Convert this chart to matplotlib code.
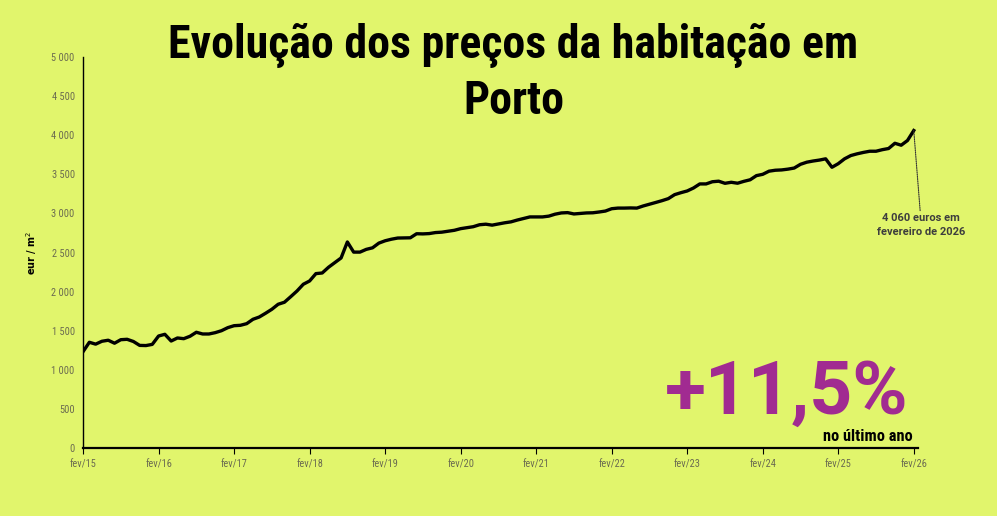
import matplotlib
matplotlib.use("Agg")
import matplotlib.pyplot as plt
from matplotlib.ticker import FuncFormatter

# ---- data ----
prices = [
    1232, 1352, 1328, 1365, 1378, 1340, 1385, 1390, 1362, 1312, 1310, 1325,
    1432, 1454, 1368, 1407, 1398, 1429, 1480, 1458, 1458, 1475, 1500, 1539,
    1564, 1569, 1590, 1646, 1675, 1723, 1774, 1838, 1864, 1935, 2008, 2094,
    2136, 2230, 2238, 2311, 2370, 2430, 2635, 2505, 2505, 2540, 2560, 2620,
    2650, 2670, 2685, 2686, 2688, 2740, 2738, 2742, 2755, 2760, 2772, 2784,
    2805, 2818, 2830, 2855, 2862, 2850, 2865, 2880, 2892, 2915, 2935, 2955,
    2955, 2955, 2965, 2990, 3006, 3010, 2993, 3000, 3006, 3008, 3018, 3030,
    3060, 3068, 3068, 3070, 3068, 3095, 3117, 3140, 3163, 3189, 3240, 3265,
    3287, 3325, 3377, 3377, 3405, 3412, 3385, 3398, 3386, 3410, 3430, 3483,
    3500, 3540, 3552, 3556, 3566, 3580, 3628, 3655, 3670, 3682, 3698, 3590,
    3636, 3698, 3740, 3762, 3780, 3795, 3795, 3815, 3830, 3897, 3872, 3932,
    4060,
]
tick_labels = ["fev/15", "fev/16", "fev/17", "fev/18", "fev/19", "fev/20",
               "fev/21", "fev/22", "fev/23", "fev/24", "fev/25", "fev/26"]
y_ticks = [0, 500, 1000, 1500, 2000, 2500, 3000, 3500, 4000, 4500, 5000]
title = "Evolução dos preços da habitação em\nPorto"
big_change = "+11,5%"
change_note = "no último ano"
end_note = "4 060 euros em\nfevereiro de 2026"

BG = "#E1F56C"
PURPLE = "#A12B91"
NARROW = ["Liberation Sans Narrow", "Roboto Condensed", "DejaVu Sans"]

months = list(range(len(prices)))

fig = plt.figure(figsize=(9.97, 5.16), dpi=100, facecolor=BG)
ax = fig.add_axes([0.0833, 0.1318, 0.837, 0.7577])
ax.set_facecolor(BG)

ax.plot(months, prices, color="black", lw=2.4, solid_joinstyle="round", zorder=3)

ax.set_xlim(0, 132.6)
ax.set_ylim(0, 5000)
ax.set_yticks(y_ticks)
ax.yaxis.set_major_formatter(FuncFormatter(lambda v, p: f"{int(v):,}".replace(",", " ")))
ax.set_xticks([12 * i for i in range(len(tick_labels))])
ax.set_xticklabels(tick_labels)

for s in ["top", "right"]:
    ax.spines[s].set_visible(False)
ax.spines["left"].set_linewidth(1.0)
ax.spines["bottom"].set_linewidth(1.6)
ax.tick_params(axis="y", length=0, labelsize=7.5, labelcolor="#6b6b50", pad=6)
ax.tick_params(axis="x", length=4, width=0.8, direction="out", labelsize=7.5,
               labelcolor="#6b6b50", pad=4)
for lab in ax.get_xticklabels() + ax.get_yticklabels():
    lab.set_family(NARROW)

ax.set_ylabel("eur / m$^2$", fontsize=7, fontweight="bold", labelpad=9)

fig.text(0.515, 0.955, title, ha="center", va="top", fontsize=33,
         fontweight="bold", linespacing=1.3, family=NARROW)

fig.text(0.911, 0.199, big_change, ha="right", va="baseline", fontsize=54,
         fontweight="bold", color=PURPLE, family=["Roboto", "DejaVu Sans"])
fig.text(0.915, 0.146, change_note, ha="right", va="baseline", fontsize=11.8,
         fontweight="bold", color="black", family=NARROW)

ax.annotate(end_note, xy=(months[-1], prices[-1]), xytext=(133.2, 3000),
            ha="center", va="top", fontsize=8, fontweight="bold", color="#3d3d3d",
            linespacing=1.5, family=["Roboto", "DejaVu Sans"],
            arrowprops=dict(arrowstyle="-", linestyle=(0, (1, 1)), lw=0.8,
                            color="#333333", shrinkA=0, shrinkB=0),
            annotation_clip=False)

fig.savefig("out.png", dpi=100, facecolor=BG)
